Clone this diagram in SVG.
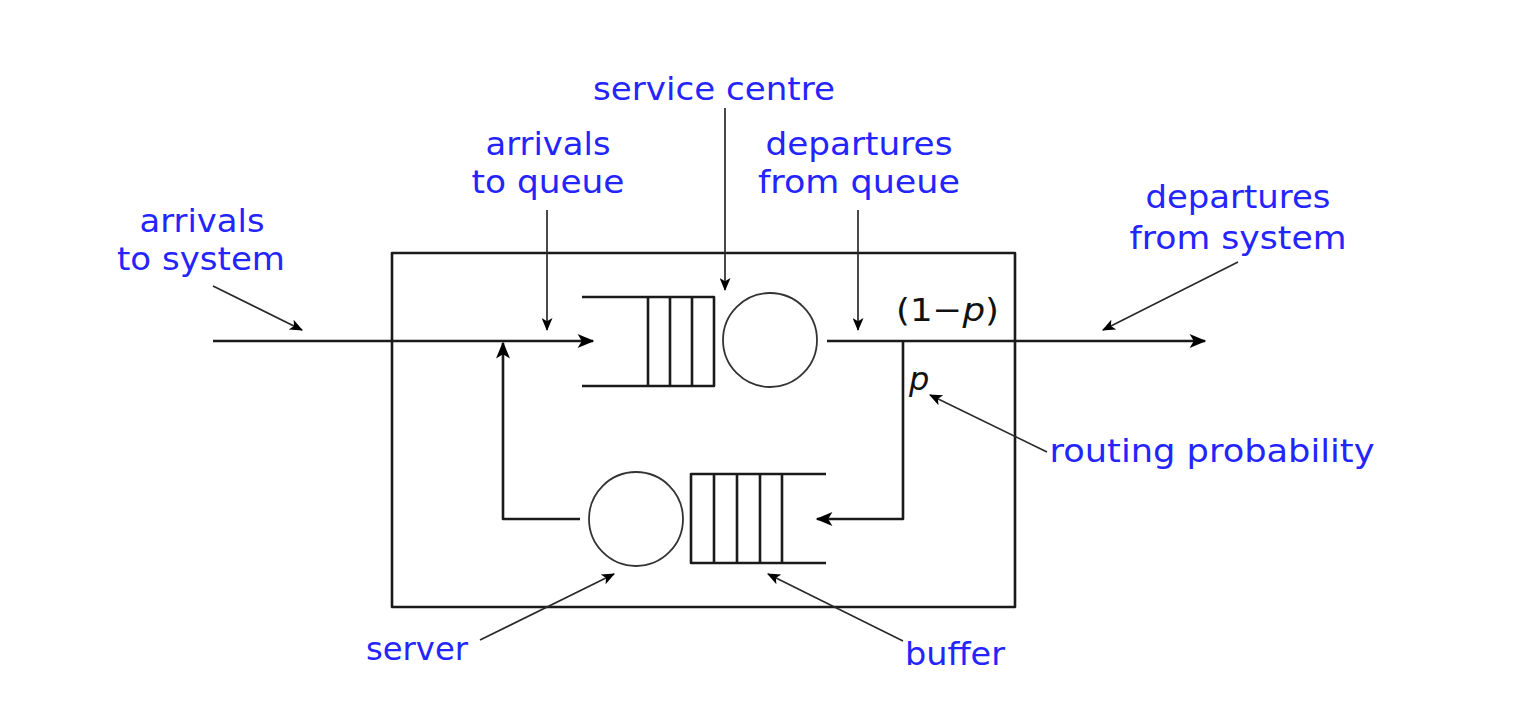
<svg xmlns="http://www.w3.org/2000/svg" width="1530" height="718" viewBox="0 0 1530 718">
<style>
.lbl{font-family:"DejaVu Sans","Liberation Sans",sans-serif;font-size:32px;fill:#2424ff;text-anchor:middle}
.math{font-family:"DejaVu Sans","Liberation Sans",sans-serif;font-size:32px;fill:#111}
.ln{fill:none;stroke:#1a1a1a;stroke-width:2.6;stroke-linejoin:round}
.ann{fill:none;stroke:#2a2a2a;stroke-width:1.7}
.sc{fill:#fff;stroke:#333;stroke-width:1.8}
</style>
<defs>
<marker id="ah" viewBox="0 0 12 10" refX="11" refY="5" markerWidth="15" markerHeight="11" markerUnits="userSpaceOnUse" orient="auto">
<path d="M0,0 L12,5 L0,10 L3,5 Z" fill="#000"/>
</marker>
<marker id="ah2" viewBox="0 0 12 10" refX="11" refY="5" markerWidth="20" markerHeight="14" markerUnits="userSpaceOnUse" orient="auto">
<path d="M0,0 L12,5 L0,10 L3,5 Z" fill="#000"/>
</marker>
</defs>
<rect width="1530" height="718" fill="#fff"/>

<g id="system-box">
<rect x="392" y="253" width="623" height="354" class="ln"/>
</g>

<g id="top-queue">
<path d="M582,297 H714 V386 H582" class="ln"/>
<path d="M648,297 V386 M670,297 V386 M692,297 V386" class="ln"/>
</g>
<g id="top-server">
<circle cx="770" cy="340" r="47" class="sc"/>
</g>

<g id="bottom-queue">
<path d="M826,474 H691 V563 H826" class="ln"/>
<path d="M714,474 V563 M737,474 V563 M760,474 V563 M782,474 V563" class="ln"/>
</g>
<g id="bottom-server">
<circle cx="636" cy="519" r="47" class="sc"/>
</g>

<g id="connectors">
<path d="M213,341 H593" class="ln" marker-end="url(#ah2)"/>
<path d="M827,341 H1205" class="ln" marker-end="url(#ah2)"/>
<path d="M903,341 V519 H817" class="ln" marker-end="url(#ah2)"/>
<path d="M580,519 H503 V343" class="ln" marker-end="url(#ah2)"/>
<path d="M213,286 L302,330" class="ann" marker-end="url(#ah)"/>
<path d="M547,210 V330" class="ann" marker-end="url(#ah)"/>
<path d="M725,108 V290" class="ann" marker-end="url(#ah)"/>
<path d="M858,210 V330" class="ann" marker-end="url(#ah)"/>
<path d="M1238,262 L1103,330" class="ann" marker-end="url(#ah)"/>
<path d="M1047,452 L930,395" class="ann" marker-end="url(#ah)"/>
<path d="M480,640 L614,574" class="ann" marker-end="url(#ah)"/>
<path d="M903,641 L768,574" class="ann" marker-end="url(#ah)"/>
</g>

<g id="labels">
<text class="lbl" x="202" y="232" textLength="125" lengthAdjust="spacingAndGlyphs">arrivals</text>
<text class="lbl" x="201" y="270" textLength="168" lengthAdjust="spacingAndGlyphs">to system</text>
<text class="lbl" x="714" y="100" textLength="242" lengthAdjust="spacingAndGlyphs">service centre</text>
<text class="lbl" x="548" y="155" textLength="125" lengthAdjust="spacingAndGlyphs">arrivals</text>
<text class="lbl" x="548" y="193" textLength="153" lengthAdjust="spacingAndGlyphs">to queue</text>
<text class="lbl" x="859" y="155" textLength="187" lengthAdjust="spacingAndGlyphs">departures</text>
<text class="lbl" x="859" y="193" textLength="202" lengthAdjust="spacingAndGlyphs">from queue</text>
<text class="lbl" x="1238" y="208" textLength="185" lengthAdjust="spacingAndGlyphs">departures</text>
<text class="lbl" x="1238" y="249" textLength="217" lengthAdjust="spacingAndGlyphs">from system</text>
<text class="lbl" x="1212" y="462" textLength="325" lengthAdjust="spacingAndGlyphs">routing probability</text>
<text class="lbl" x="417" y="660" textLength="102" lengthAdjust="spacingAndGlyphs">server</text>
<text class="lbl" x="955" y="665" textLength="100" lengthAdjust="spacingAndGlyphs">buffer</text>
<text class="math" x="896" y="321" textLength="103" lengthAdjust="spacingAndGlyphs">(1−<tspan font-style="italic">p</tspan>)</text>
<text class="math" x="909" y="390" font-style="italic">p</text>
</g>
</svg>
